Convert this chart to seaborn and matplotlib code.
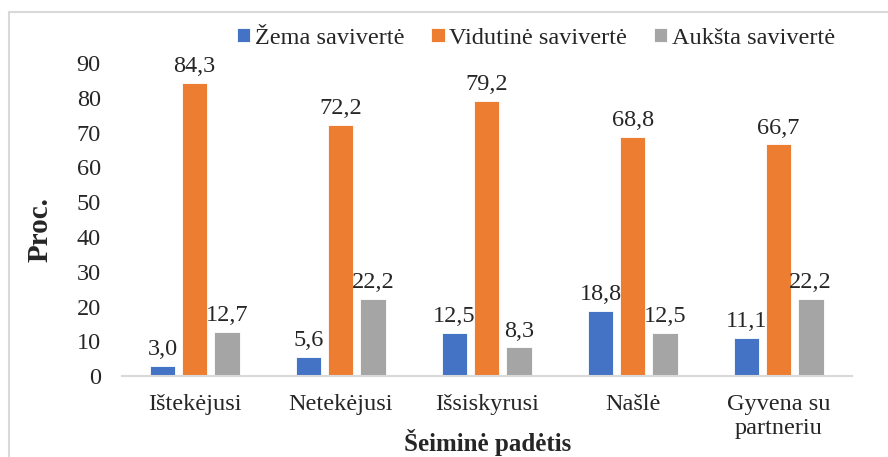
import numpy as np
import pandas as pd
import matplotlib
matplotlib.use("Agg")
import matplotlib.pyplot as plt
from matplotlib.patches import Rectangle
import seaborn as sns

# data
categories = ["Ištekėjusi", "Netekėjusi", "Išsiskyrusi", "Našlė", "Gyvena su\npartneriu"]
series_names = ["Žema savivertė", "Vidutinė savivertė", "Aukšta savivertė"]
zema = [3.0, 5.6, 12.5, 18.8, 11.1]
vidutine = [84.3, 72.2, 79.2, 68.8, 66.7]
auksta = [12.7, 22.2, 8.3, 12.5, 22.2]
colors = ["#4472C4", "#ED7D31", "#A5A5A5"]

df = pd.DataFrame({
    "kat": categories * 3,
    "serija": [s for s in series_names for _ in categories],
    "proc": zema + vidutine + auksta,
})

sns.set_style("white")
plt.rcParams["font.family"] = ["Liberation Serif", "DejaVu Serif"]
plt.rcParams["font.size"] = 17.5

fig = plt.figure(figsize=(8.88, 4.57), dpi=100)
ax = fig.add_axes([0.137, 0.177, 0.822, 0.685])

sns.barplot(data=df, x="kat", y="proc", hue="serija", order=categories,
            hue_order=series_names, palette=colors, saturation=1,
            width=0.66, gap=0.2, edgecolor="white", linewidth=0.6, ax=ax)

for cont in ax.containers:
    vals = cont.datavalues
    ax.bar_label(cont, labels=[f"{v:.1f}".replace(".", ",") for v in vals],
                 padding=4, fontsize=17.5)

ax.set_ylim(0, 90)
ax.set_yticks(np.arange(0, 91, 10))
ax.set_xlabel("")
ax.set_ylabel("")
ax.tick_params(axis="y", length=0, pad=15, labelsize=17.5)
ax.tick_params(axis="x", length=0, pad=13, labelsize=17.5)
for s in ["top", "right", "left"]:
    ax.spines[s].set_visible(False)
ax.spines["bottom"].set_color("#D9D9D9")
ax.spines["bottom"].set_linewidth(1.5)

ax.legend(loc="center", bbox_to_anchor=(536 / 888, 1 - 38 / 457),
          bbox_transform=fig.transFigure, ncol=3, frameon=False,
          handlelength=0.55, handleheight=0.55, handletextpad=0.2,
          columnspacing=1.1, fontsize=17.5, borderaxespad=0)

fig.text(40 / 888, 1 - 230 / 457, "Proc.", rotation=90, ha="center",
         va="center", fontsize=21, fontweight="bold")
fig.text(488 / 888, 1 - 443 / 457, "Šeiminė padėtis", ha="center",
         va="center", fontsize=18, fontweight="bold")

fig.patches.append(Rectangle((9 / 888, -0.1), 1.2, 1.1 - 12 / 457,
                             transform=fig.transFigure, fill=False,
                             edgecolor="#D9D9D9", linewidth=1.5))

fig.savefig("out.png", dpi=100)
